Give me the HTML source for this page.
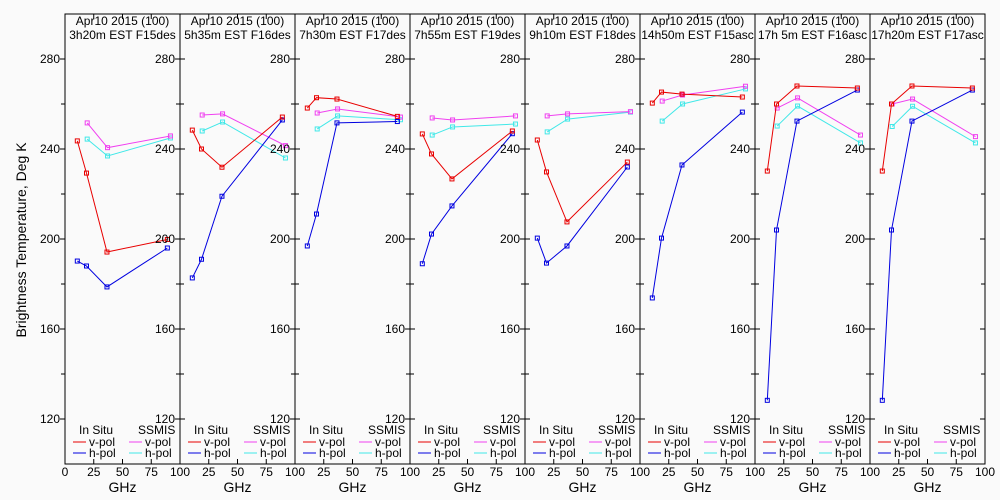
<!DOCTYPE html>
<html><head><meta charset="utf-8"><style>
body{margin:0;background:#fafafa;}
svg{display:block;font-family:"Liberation Sans",sans-serif;}
</style></head><body>
<svg id="c" width="1000" height="500" xmlns="http://www.w3.org/2000/svg">
<rect width="1000" height="500" fill="#fafafa"/>
<text x="26" y="240" font-size="14" text-anchor="middle" transform="rotate(-90 26 240)">Brightness Temperature, Deg K</text>
</svg>
<script>
const titles2 = ["3h20m EST F15des","5h35m EST F16des","7h30m EST F17des","7h55m EST F19des","9h10m EST F18des","14h50m EST F15asc","17h 5m EST F16asc","17h20m EST F17asc"];
const freqIn = [10.7, 18.7, 36.5, 89];
const freqSS = [19.3, 37, 91.7];
const inSituV = [[243.6,229.3,194.2,199.8],[248.4,240,231.9,254.2],[258.2,262.8,262.2,254.5],[246.7,237.8,226.7,248],[244,229.8,207.6,234.2],[260.4,265.3,264.4,263.1],[230.2,260,268,267.1],[230.2,260,268,267.1]];
const inSituH = [[190.2,188,178.7,196],[182.7,191,219,252.9],[196.9,211.1,251.6,252.2],[189,202.2,214.7,246.8],[200.4,189.3,196.9,232],[173.8,200.4,232.9,256.4],[128.3,204,252.4,266.2],[128.3,204,252.4,266.2]];
const ssmisV = [[251.6,240.6,245.8],[255.1,255.6,241.5],[256,257.8,254.2],[253.8,252.9,254.7],[254.7,255.6,256.6],[261.3,264,267.9],[258.2,262.7,246.2],[260,262.2,245.5]];
const ssmisH = [[244.4,236.9,244.9],[248,252,236],[248.9,254.7,253],[246.2,249.8,251.1],[247.6,253.3,256.4],[252.4,260,266.7],[250.2,259.1,242.7],[250,259,242.7]];
const yTicks = [120,160,200,240,280];
const xTicks = [0,25,50,75,100];

const NS="http://www.w3.org/2000/svg", svg=document.getElementById('c');
const L0=65, PW=115, TOP=14, BOT=464;
function sx(p,f){return L0+p*PW+f*PW/100;}
function sy(v){return BOT-(v-100)*(BOT-TOP)/200;}
function mk(tag,attrs,parent){const e=document.createElementNS(NS,tag);for(const k in attrs)e.setAttribute(k,attrs[k]);(parent||svg).appendChild(e);return e;}

for(let p=0;p<8;p++){
  const g=mk('g',{});
  
  
  const x0=sx(p,0),x1=sx(p,100);
  const fr=mk('rect',{x:x0,y:TOP,width:PW,height:BOT-TOP,fill:'none',stroke:'#000','stroke-width':1},g);
  
  
  for(let i=1;i<4;i++){const xx=sx(p,xTicks[i]);
    mk('line',{x1:xx,x2:xx,y1:BOT,y2:BOT-5,stroke:'#000'},g);
    mk('line',{x1:xx,x2:xx,y1:TOP,y2:TOP+5,stroke:'#000'},g);}
  for(let i=0;i<xTicks.length;i++){
    if(i===0&&p>0)continue;
    const t=mk('text',{x:sx(p,xTicks[i]),y:476,'font-size':12,'text-anchor':'middle'},g);
    t.textContent=xTicks[i];
    
    
  }
  const gx=mk('text',{x:(x0+x1)/2,y:492,'font-size':14,'text-anchor':'middle'},g);
  gx.textContent='GHz';
  
  
  for(let v=120;v<=280;v+=20){const yy=sy(v);const len=(v%40===0)?5:4;
    mk('line',{x1:x0-len,x2:(p===0?x0:x0+len),y1:yy,y2:yy,stroke:'#000'},g);
    if(p===7) mk('line',{x1:x1-len,x2:x1,y1:yy,y2:yy,stroke:'#000'},g);}
  for(const v of yTicks){const t=mk('text',{x:x0-5,y:sy(v)+4,'font-size':12,'text-anchor':'end'},g);
    t.textContent=v;
    
    }
  const t1=mk('text',{x:(x0+x1)/2,y:25,'font-size':12,'text-anchor':'middle'},g);
  t1.textContent='Apr10 2015 (100)';
  
  
  const t2=mk('text',{x:(x0+x1)/2,y:39,'font-size':12,'text-anchor':'middle'},g);
  t2.textContent=titles2[p];
  
  
  const series=[[ssmisH[p],freqSS,'#40e8e8','ssmis-h-pol'],[ssmisV[p],freqSS,'#f040f0','ssmis-v-pol'],[inSituH[p],freqIn,'#0000e0','in-situ-h-pol'],[inSituV[p],freqIn,'#e80000','in-situ-v-pol']];
  for(const [vals,fr2,col,nm] of series){
    const pts=vals.map((v,i)=>sx(p,fr2[i])+','+sy(v)).join(' ');
    const pl=mk('polyline',{points:pts,fill:'none',stroke:col,'stroke-width':1},g);
    
    
    vals.forEach((v,i)=>{const r=mk('rect',{x:sx(p,fr2[i])-2,y:sy(v)-2,width:4,height:4,fill:'none',stroke:col,'stroke-width':1},g);
      
      });
  }
  const lg=mk('g',{},g);
  
  
  const a=mk('text',{x:x0+14,y:434,'font-size':12},lg);a.textContent='In Situ';
  const b=mk('text',{x:x0+73,y:434,'font-size':12},lg);b.textContent='SSMIS';
  const rows=[[446,'#e80000','#f040f0','v-pol'],[457,'#0000e0','#40e8e8','h-pol']];
  for(const [yy,c1,c2,lab] of rows){
    mk('line',{x1:x0+8,x2:x0+21,y1:yy-4,y2:yy-4,stroke:c1},lg);
    const e1=mk('text',{x:x0+24,y:yy,'font-size':12},lg);e1.textContent=lab;
    
    
    mk('line',{x1:x0+64,x2:x0+77,y1:yy-4,y2:yy-4,stroke:c2},lg);
    const e2=mk('text',{x:x0+80,y:yy,'font-size':12},lg);e2.textContent=lab;
    
    
  }
}
</script>
</body></html>
